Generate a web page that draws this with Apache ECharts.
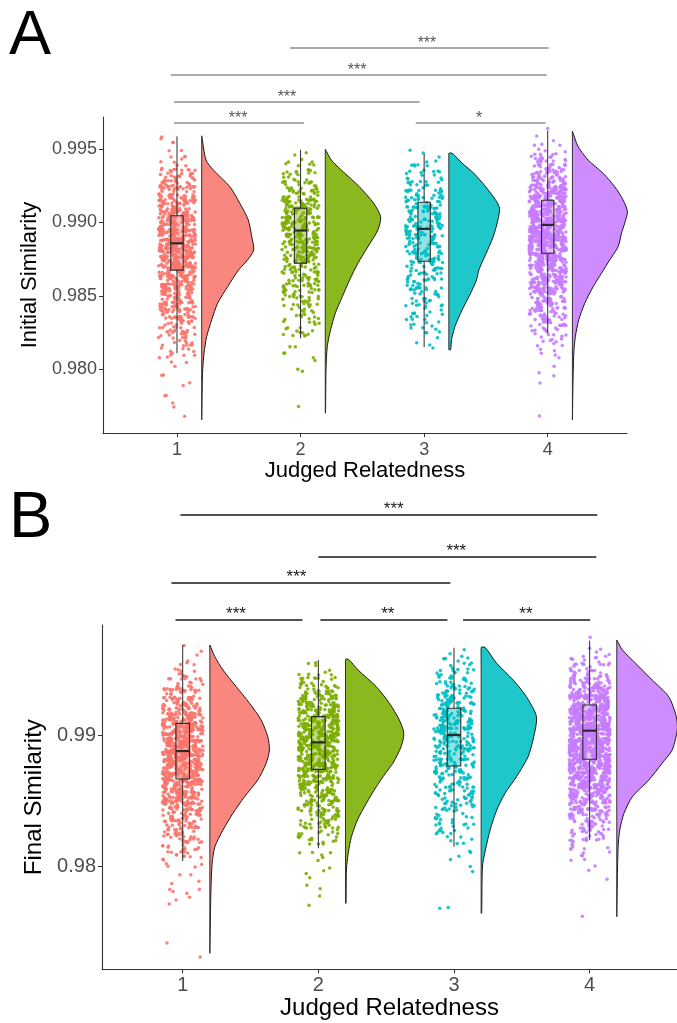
<!DOCTYPE html>
<html>
<head>
<meta charset="utf-8">
<script src="https://cdn.jsdelivr.net/npm/echarts@6/dist/echarts.min.js"></script>
<style>
  html, body { margin: 0; padding: 0; background: #fff; }
  #chart { width: 677px; height: 1023px; }
</style>
</head>
<body>
<div id="chart"></div>
<script>
// ---------- data ----------
const categories = ['1', '2', '3', '4'];
const groupColors = ['#F8766D', '#7CAE00', '#00BFC4', '#C77CFF'];

// Panel A: Initial Similarity
const initialTicks = [0.980, 0.985, 0.990, 0.995];
// [lower whisker, Q1, median, Q3, upper whisker]
const initialBox = [
  [0.98110, 0.98675, 0.98858, 0.99046, 0.99586],
  [0.98212, 0.98723, 0.98945, 0.99097, 0.99495],
  [0.98151, 0.98736, 0.98956, 0.99137, 0.99466],
  [0.98246, 0.98790, 0.98983, 0.99151, 0.99625]
];
// point counts per 0.0005-wide bin, first bin starts at 0.9765
const initialBinStart = 0.9765;
const initialCounts1 = [1,1,1,2,1,1,2,2,6,6,10,13,16,19,24,29,32,38,42,45,48,51,54,54,54,51,48,45,42,35,32,26,19,16,11,6,2,2,2];
const initialCounts2 = [0,1,0,0,0,0,1,1,2,2,2,6,7,8,10,11,13,14,17,18,21,22,24,25,28,29,31,31,29,27,22,18,14,10,7,3,2];
const initialCounts3 = [0,0,0,0,0,0,0,0,0,1,2,3,5,7,8,9,10,13,14,14,16,17,17,18,20,21,21,21,21,20,17,14,12,9,7,3,2];
const initialCounts4 = [1,0,0,0,0,1,2,1,2,3,6,8,13,16,21,26,30,35,40,45,50,54,58,61,61,62,64,64,64,61,54,46,37,27,19,13,8,3,2,1];
// half-violin outline: [value, width in category units]
const initialViolin1 = [[0.99590,0],[0.99425,0.035],[0.99357,0.094],[0.99244,0.227],[0.99131,0.308],[0.99017,0.377],[0.98903,0.405],[0.98813,0.421],[0.98745,0.372],[0.98677,0.299],[0.98563,0.210],[0.98450,0.129],[0.98337,0.081],[0.98223,0.040],[0.98110,0.019],[0.97997,0.008],[0.97883,0.004],[0.97656,0]];
const initialViolin2 = [[0.99498,0],[0.99425,0.049],[0.99357,0.129],[0.99244,0.275],[0.99131,0.391],[0.99039,0.448],[0.98949,0.426],[0.98835,0.345],[0.98722,0.264],[0.98609,0.197],[0.98495,0.138],[0.98382,0.081],[0.98269,0.043],[0.98155,0.016],[0.97997,0.006],[0.97702,0.002]];
const initialViolin3 = [[0.99471,0.027],[0.99403,0.108],[0.99335,0.202],[0.99244,0.297],[0.99153,0.378],[0.99097,0.410],[0.99017,0.397],[0.98903,0.359],[0.98790,0.302],[0.98677,0.243],[0.98609,0.224],[0.98518,0.176],[0.98405,0.108],[0.98291,0.049],[0.98201,0.022],[0.98133,0.014]];
const initialViolin4 = [[0.99622,0],[0.99516,0.046],[0.99425,0.127],[0.99335,0.248],[0.99244,0.342],[0.99153,0.410],[0.99074,0.445],[0.98995,0.423],[0.98927,0.397],[0.98835,0.370],[0.98745,0.302],[0.98654,0.235],[0.98563,0.168],[0.98450,0.100],[0.98337,0.051],[0.98223,0.024],[0.98110,0.011],[0.97883,0.004],[0.97656,0]];
// significance brackets: [from, to, level, label x]
const initialBrackets = [[0.976,2.027,0.996770,1.494],[0.976,2.964,0.998200,1.890],[0.951,3.991,1.000039,2.457],[1.914,4.007,1.001877,3.023],[2.932,3.983,0.996770,3.444]];
const initialBracketLabels = ['***', '***', '***', '***', '*'];

// Panel B: Final Similarity
const finalTicks = [0.98, 0.99];
const finalBox = [
  [0.98038, 0.98664, 0.98878, 0.99089, 0.99687],
  [0.98135, 0.98738, 0.98944, 0.99140, 0.99573],
  [0.98147, 0.98763, 0.99000, 0.99204, 0.99666],
  [0.98198, 0.98815, 0.99033, 0.99229, 0.99720]
];
// point counts per 0.0005-wide bin, first bin starts at 0.9730
const finalBinStart = 0.9730;
const finalCounts1 = [1,0,1,0,0,0,0,0,2,2,3,2,2,2,3,8,11,13,16,19,22,27,32,37,42,46,50,53,56,58,59,59,58,56,53,48,43,37,30,24,18,13,10,6,3,2,2,1];
const finalCounts2 = [0,0,0,0,0,0,0,0,1,1,1,1,2,2,1,2,3,8,9,12,15,17,20,23,26,27,30,33,36,38,41,42,45,47,47,45,42,38,33,27,21,15,11,6,2,1];
const finalCounts3 = [0,0,0,0,0,0,0,2,0,0,0,0,0,2,1,1,2,3,5,7,8,9,10,12,13,14,16,17,18,20,21,22,23,23,25,25,25,23,22,20,17,14,12,9,7,5,2,1];
const finalCounts4 = [0,0,0,0,0,0,1,0,0,0,0,1,0,1,3,3,6,8,11,14,19,24,29,35,42,48,54,59,64,67,70,72,74,74,74,72,69,64,58,50,42,32,24,18,13,8,3,2,1];
const finalViolin1 = [[0.99687,0],[0.99598,0.037],[0.99496,0.097],[0.99369,0.195],[0.99242,0.293],[0.99115,0.378],[0.98987,0.427],[0.98885,0.439],[0.98784,0.415],[0.98656,0.353],[0.98529,0.256],[0.98402,0.170],[0.98275,0.097],[0.98147,0.037],[0.98021,0.017],[0.97766,0.007],[0.97334,0]];
const finalViolin2 = [[0.99578,0.022],[0.99496,0.093],[0.99369,0.227],[0.99242,0.324],[0.99115,0.397],[0.99013,0.430],[0.98911,0.410],[0.98784,0.349],[0.98708,0.295],[0.98605,0.227],[0.98479,0.154],[0.98351,0.088],[0.98224,0.044],[0.98097,0.020],[0.97969,0.007],[0.97715,0.004]];
const finalViolin3 = [[0.99669,0.029],[0.99547,0.115],[0.99420,0.236],[0.99292,0.334],[0.99140,0.408],[0.98987,0.388],[0.98834,0.346],[0.98682,0.261],[0.98555,0.176],[0.98427,0.115],[0.98275,0.066],[0.98147,0.037],[0.98021,0.012],[0.97893,0.007],[0.97639,0.004]];
const finalViolin4 = [[0.99725,0],[0.99649,0.042],[0.99547,0.139],[0.99420,0.261],[0.99292,0.383],[0.99140,0.439],[0.99038,0.446],[0.98885,0.408],[0.98784,0.334],[0.98656,0.236],[0.98529,0.115],[0.98402,0.053],[0.98275,0.022],[0.98147,0.010],[0.97893,0.004],[0.97613,0]];
const finalBrackets = [[0.947,1.883,0.998779,1.393],[2.015,2.952,0.998779,2.512],[3.067,4.004,0.998779,3.530],[0.917,2.973,1.001603,1.839],[2.000,4.049,1.003588,3.017],[0.983,4.056,1.006794,2.556]];
const finalBracketLabels = ['***', '**', '**', '***', '***', '***'];

// ---------- drawing ----------
const BIN = 0.0005;
const JITTER = 0.15;       // half-width of the point cloud
const BOX_HALF = 0.05;     // half-width of the boxes
const VIOLIN_OFFSET = 0.2; // violins sit to the right of each group
const FONT = 'Liberation Sans, Arial, sans-serif';

// integer hash -> [0, 1), used to place each point inside its bin and jitter band
function hash(n) {
  n = (n ^ 61) ^ (n >>> 16);
  n = (n + (n << 3)) | 0;
  n = n ^ (n >>> 4);
  n = Math.imul(n, 0x27d4eb2d);
  n = n ^ (n >>> 15);
  return (n >>> 0) / 4294967296;
}

function cloud(counts, start, g, seed) {
  const pts = [];
  counts.forEach((n, i) => {
    const lo = start + i * BIN;
    for (let k = 0; k < n; k++) {
      const id = seed * 1000003 + g * 100019 + i * 211 + k;
      const fy = hash(id * 2 + 1);
      const fx = hash(id * 2 + 7777777);
      pts.push([g + (fx * 2 - 1) * JITTER, lo + fy * BIN]);
    }
  });
  return pts;
}

function withAlpha(hex, a) {
  const n = parseInt(hex.slice(1), 16);
  return 'rgba(' + (n >> 16) + ',' + ((n >> 8) & 255) + ',' + (n & 255) + ',' + a + ')';
}

function violinSeries(profiles, axisIdx) {
  return {
    type: 'custom', xAxisIndex: axisIdx, yAxisIndex: axisIdx, z: 2, silent: true,
    data: categories.map((c, i) => [i + 1]),
    renderItem: function (params, api) {
      const g = api.value(0);
      const prof = profiles[params.dataIndex];
      const base = g + VIOLIN_OFFSET;
      const top = prof[0][0], bottom = prof[prof.length - 1][0];
      const edge = prof.map(p => api.coord([base + p[1], p[0]]));
      const outline = [api.coord([base, top])].concat(edge, [api.coord([base, bottom])]);
      const fillPts = outline.slice();
      for (let s = 1; s < 12; s++) {
        const v = bottom + (top - bottom) * s / 12;
        fillPts.push(api.coord([base, v]));
      }
      const color = groupColors[params.dataIndex];
      return {
        type: 'group',
        children: [
          { type: 'polygon', shape: { points: fillPts, smooth: 0.25 },
            style: { fill: withAlpha(color, 0.88), stroke: null } },
          { type: 'polyline', shape: { points: outline, smooth: 0.25 },
            style: { fill: null, stroke: '#1a1a1a', lineWidth: 1 } },
          { type: 'line', shape: { x1: outline[0][0], y1: outline[0][1], x2: outline[outline.length - 1][0], y2: outline[outline.length - 1][1] },
            style: { stroke: '#333', lineWidth: 1 } }
        ]
      };
    }
  };
}

function boxSeries(boxes, axisIdx, stroke) {
  return {
    type: 'custom', xAxisIndex: axisIdx, yAxisIndex: axisIdx, z: 3, silent: true,
    data: boxes.map((b, i) => [i + 1].concat(b)),
    renderItem: function (params, api) {
      const g = api.value(0);
      const lo = api.value(1), q1 = api.value(2), med = api.value(3), q3 = api.value(4), hi = api.value(5);
      const pHi = api.coord([g, hi]), pQ3 = api.coord([g, q3]), pQ1 = api.coord([g, q1]), pLo = api.coord([g, lo]);
      const l = api.coord([g - BOX_HALF, q3]), r = api.coord([g + BOX_HALF, q1]);
      const mL = api.coord([g - BOX_HALF, med]), mR = api.coord([g + BOX_HALF, med]);
      const color = groupColors[params.dataIndex];
      return {
        type: 'group',
        children: [
          { type: 'line', shape: { x1: pHi[0], y1: pHi[1], x2: pQ3[0], y2: pQ3[1] }, style: { stroke: stroke, lineWidth: 1 } },
          { type: 'line', shape: { x1: pQ1[0], y1: pQ1[1], x2: pLo[0], y2: pLo[1] }, style: { stroke: stroke, lineWidth: 1 } },
          { type: 'rect', shape: { x: l[0], y: l[1], width: r[0] - l[0], height: r[1] - l[1] },
            style: { fill: withAlpha(color, 0.45), stroke: stroke, lineWidth: 1.1 } },
          { type: 'line', shape: { x1: mL[0], y1: mL[1], x2: mR[0], y2: mR[1] }, style: { stroke: stroke, lineWidth: 2.2 } }
        ]
      };
    }
  };
}

function bracketSeries(brackets, labels, axisIdx, color, width, fontSize, lift) {
  return {
    type: 'custom', xAxisIndex: axisIdx, yAxisIndex: axisIdx, z: 4, silent: true, clip: false,
    data: brackets,
    renderItem: function (params, api) {
      const a = api.coord([api.value(0), api.value(2)]);
      const b = api.coord([api.value(1), api.value(2)]);
      const t = api.coord([api.value(3), api.value(2)]);
      return {
        type: 'group',
        children: [
          { type: 'line', shape: { x1: a[0], y1: a[1], x2: b[0], y2: b[1] }, style: { stroke: color, lineWidth: width } },
          { type: 'text', x: t[0], y: t[1] - lift,
            style: { text: labels[params.dataIndex], fill: color, font: fontSize + 'px ' + FONT, align: 'center', verticalAlign: 'middle' } }
        ]
      };
    }
  };
}

function scatterSeries(countsList, start, axisIdx) {
  return countsList.map((counts, i) => ({
    type: 'scatter', xAxisIndex: axisIdx, yAxisIndex: axisIdx, z: 1, silent: true,
    symbolSize: 3.5, data: cloud(counts, start, i + 1, axisIdx + 1),
    itemStyle: { color: groupColors[i], opacity: 0.9 }
  }));
}

function xAxisCfg(gridIdx, min, max, fontSize, titleSize, gap, margin) {
  return {
    type: 'value', gridIndex: gridIdx, min: min, max: max,
    name: 'Judged Relatedness', nameLocation: 'middle', nameGap: gap,
    nameTextStyle: { color: '#000', fontSize: titleSize, fontFamily: FONT },
    axisLine: { onZero: false, lineStyle: { color: '#333', width: 1.1 } },
    axisTick: { length: 4, customValues: [1, 2, 3, 4], lineStyle: { color: '#333' } },
    axisLabel: { customValues: [1, 2, 3, 4], formatter: v => categories[Math.round(v) - 1], color: '#4D4D4D', fontSize: fontSize, fontFamily: FONT, margin: margin },
    splitLine: { show: false }
  };
}

function yAxisCfg(gridIdx, min, max, ticks, digits, name, fontSize, titleSize, gap) {
  return {
    type: 'value', gridIndex: gridIdx, min: min, max: max,
    name: name, nameLocation: 'middle', nameGap: gap,
    nameTextStyle: { color: '#000', fontSize: titleSize, fontFamily: FONT },
    axisLine: { show: true, onZero: false, lineStyle: { color: '#333', width: 1.1 } },
    axisTick: { show: true, length: 4, customValues: ticks, lineStyle: { color: '#333' } },
    axisLabel: { customValues: ticks, formatter: v => v.toFixed(digits), color: '#4D4D4D', fontSize: fontSize, fontFamily: FONT, margin: 6 },
    splitLine: { show: false }
  };
}

const option = {
  animation: false,
  backgroundColor: '#fff',
  grid: [
    { left: 103, top: 117, width: 524, height: 316 },
    { left: 102, top: 625, width: 579.3, height: 344.3 }
  ],
  xAxis: [
    xAxisCfg(0, 0.4012, 4.6417, 18, 22, 27, 8),
    xAxisCfg(1, 0.405, 4.644, 20, 24, 27, 6)
  ],
  yAxis: [
    yAxisCfg(0, 0.975663, 0.997179, initialTicks, 3, 'Initial Similarity', 18, 22, 48),
    yAxisCfg(1, 0.972115, 0.998397, finalTicks, 2, 'Final Similarity', 20, 24, 46)
  ],
  graphic: [
    { type: 'text', left: 9, top: 5, style: { text: 'A', font: '63px ' + FONT, fill: '#000' } },
    { type: 'text', left: 9, top: 487, style: { text: 'B', font: '65px ' + FONT, fill: '#000' } }
  ],
  series: [].concat(
    scatterSeries([initialCounts1, initialCounts2, initialCounts3, initialCounts4], initialBinStart, 0),
    scatterSeries([finalCounts1, finalCounts2, finalCounts3, finalCounts4], finalBinStart, 1),
    [
      violinSeries([initialViolin1, initialViolin2, initialViolin3, initialViolin4], 0),
      violinSeries([finalViolin1, finalViolin2, finalViolin3, finalViolin4], 1),
      boxSeries(initialBox, 0, '#2b2b2b'),
      boxSeries(finalBox, 1, '#2b2b2b'),
      bracketSeries(initialBrackets, initialBracketLabels, 0, '#555', 1.1, 16, 4),
      bracketSeries(finalBrackets, finalBracketLabels, 1, '#1a1a1a', 1.4, 17, 6)
    ]
  )
};

const chart = echarts.init(document.getElementById('chart'), null, { renderer: 'canvas' });
chart.setOption(option);
</script>
</body>
</html>
